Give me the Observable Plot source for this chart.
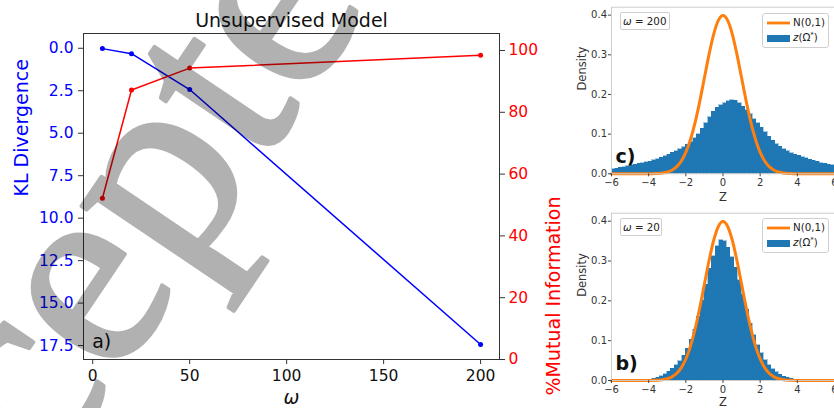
<!DOCTYPE html>
<html>
<head>
<meta charset="utf-8">
<script src="https://cdn.jsdelivr.net/npm/d3@7"></script>
<script src="https://cdn.jsdelivr.net/npm/@observablehq/plot@0.6"></script>
<style>
html, body { margin: 0; padding: 0; background: #fff; }
#root { position: relative; width: 834px; height: 408px; overflow: hidden; font-family: "DejaVu Sans", sans-serif; background: #fff; }
.layer { position: absolute; }
.layer svg { max-width: none; }
.box { position: absolute; border: 1px solid #cfcfcf; border-radius: 3px; background: rgba(255,255,255,0.85); color: #222; font-size: 10.3px; box-sizing: border-box; }
.box span { position: absolute; white-space: nowrap; line-height: 1; }
.sw { position: absolute; }
</style>
</head>
<body>
<div id="root"></div>
<script>
// ---- main panel a) data ----
const omega = [5, 20, 50, 200];
const klDivergence = [0.02, 0.32, 2.43, 17.44];
const mutualInformation = [52.2, 87.2, 94.3, 98.5];
const omegaTicks = [0, 50, 100, 150, 200];
const klTicks = [0, 2.5, 5, 7.5, 10, 12.5, 15, 17.5];
const miTicks = [0, 20, 40, 60, 80, 100];

// ---- histogram panels b) and c) data ----
const zBinCenters = [-5.9,-5.7,-5.5,-5.3,-5.1,-4.9,-4.7,-4.5,-4.3,-4.1,-3.9,-3.7,-3.5,-3.3,-3.1,-2.9,-2.7,-2.5,-2.3,-2.1,-1.9,-1.7,-1.5,-1.3,-1.1,-0.9,-0.7,-0.5,-0.3,-0.1,0.1,0.3,0.5,0.7,0.9,1.1,1.3,1.5,1.7,1.9,2.1,2.3,2.5,2.7,2.9,3.1,3.3,3.5,3.7,3.9,4.1,4.3,4.5,4.7,4.9,5.1,5.3,5.5,5.7,5.9];
const densityOmega200 = [
  0.012,0.013,0.015,0.017,0.019,0.021,0.023,0.025,0.027,0.029,
  0.031,0.034,0.037,0.040,0.044,0.048,0.053,0.057,0.062,0.067,
  0.073,0.080,0.090,0.100,0.113,0.128,0.142,0.156,0.166,0.173,
  0.178,0.183,0.186,0.184,0.178,0.169,0.160,0.150,0.138,0.127,
  0.116,0.105,0.094,0.083,0.075,0.068,0.062,0.057,0.052,0.048,
  0.045,0.042,0.039,0.036,0.033,0.030,0.027,0.025,0.023,0.021];
const densityOmega20 = [
  0,0,0,0,0,0,0,0,0,0.001,
  0.002,0.004,0.007,0.011,0.016,0.022,0.029,0.038,0.048,0.062,
  0.080,0.102,0.128,0.160,0.200,0.240,0.280,0.312,0.337,0.352,
  0.350,0.333,0.310,0.283,0.252,0.215,0.178,0.143,0.113,0.088,
  0.068,0.051,0.038,0.028,0.021,0.015,0.010,0.007,0.004,0.002,
  0.001,0,0,0,0,0,0,0,0,0];
const normalZ = [-6,-5.75,-5.5,-5.25,-5,-4.75,-4.5,-4.25,-4,-3.75,-3.5,-3.25,-3,-2.75,-2.5,-2.25,-2,-1.75,-1.5,-1.25,-1,-0.75,-0.5,-0.25,0,0.25,0.5,0.75,1,1.25,1.5,1.75,2,2.25,2.5,2.75,3,3.25,3.5,3.75,4,4.25,4.5,4.75,5,5.25,5.5,5.75,6];
const normalDensity = [0,0,0,0,0,0,0,0,0.0001,0.0004,0.0009,0.002,0.0044,0.0091,0.0175,0.0317,0.054,0.0863,0.1295,0.1826,0.242,0.3011,0.3521,0.3867,0.3989,0.3867,0.3521,0.3011,0.242,0.1826,0.1295,0.0863,0.054,0.0317,0.0175,0.0091,0.0044,0.002,0.0009,0.0004,0.0001,0,0,0,0,0,0,0,0];
const zTicks = [-6, -4, -2, 0, 2, 4, 6];
const densityTicks = [0, 0.1, 0.2, 0.3, 0.4];

const root = document.getElementById("root");
function layer(node, left, top, w, h) {
  const d = document.createElement("div");
  d.className = "layer";
  Object.assign(d.style, {left: left + "px", top: top + "px", width: w + "px", height: h + "px"});
  d.appendChild(node);
  root.appendChild(d);
  return d;
}
const baseStyle = "background: transparent; overflow: visible; max-width: none; font-family: 'DejaVu Sans', sans-serif;";
const mainDims = {width: 560, height: 408, marginLeft: 83, marginRight: 61, marginTop: 33, marginBottom: 49};
const mainData = omega.map((w, i) => ({omega: w, kl: klDivergence[i], mi: mutualInformation[i]}));
const xDomain = [-4.75, 209.75];

const klPlot = Plot.plot({
  ...mainDims,
  style: baseStyle,
  x: {domain: xDomain},
  y: {domain: [-0.87, 18.32], reverse: true},
  marks: [
    Plot.frame({stroke: "#333", strokeWidth: 1}),
    Plot.axisX({ticks: omegaTicks, tickSize: 5, tickPadding: 5, fontSize: 15.5, label: null, stroke: "#333", fill: "#111"}),
    Plot.axisY({ticks: klTicks, tickFormat: d3.format(".1f"), tickSize: 5, tickPadding: 5, fontSize: 15.5, label: null, stroke: "#333", fill: "#0000ff"}),
    Plot.line(mainData, {x: "omega", y: "kl", stroke: "#0000ff", strokeWidth: 1.5}),
    Plot.dot(mainData, {x: "omega", y: "kl", fill: "#0000ff", r: 2.5}),
    Plot.text(["Unsupervised Model"], {text: d => d, frameAnchor: "top", lineAnchor: "bottom", dy: -6.5, fontSize: 19, fill: "#111"}),
    Plot.text(["a)"], {text: d => d, frameAnchor: "bottom-left", textAnchor: "start", lineAnchor: "bottom", dx: 8.7, dy: -12, fontSize: 19, fill: "#111"}),
    Plot.text(["ω"], {text: d => d, frameAnchor: "bottom", lineAnchor: "bottom", dy: 44, fontSize: 19, fontStyle: "italic", fill: "#111"}),
    Plot.text(["KL Divergence"], {text: d => d, frameAnchor: "left", rotate: -90, dx: -62, fontSize: 19, fill: "#0000ff"})
  ]
});
layer(klPlot, 0, 0, 560, 408);

const miPlot = Plot.plot({
  ...mainDims,
  style: baseStyle,
  x: {domain: xDomain, axis: null},
  y: {domain: [0, 105.5]},
  marks: [
    Plot.axisY({anchor: "right", ticks: miTicks, tickSize: 5, tickPadding: 4, fontSize: 15.5, label: null, stroke: "#333", fill: "#ff0000"}),
    Plot.line(mainData, {x: "omega", y: "mi", stroke: "#ff0000", strokeWidth: 1.5}),
    Plot.dot(mainData, {x: "omega", y: "mi", fill: "#ff0000", r: 2.5}),
    Plot.text(["%Mutual Information"], {text: d => d, frameAnchor: "right", rotate: -90, dx: 54, fontSize: 19, fill: "#ff0000"})
  ]
});
layer(miPlot, 0, 0, 560, 408);

const minusFormat = d => d < 0 ? "\u2212" + (-d) : String(d);
function histPanel(density, label, h, marginTop, marginBottom, labelDy, zDy) {
  const bins = zBinCenters.map((z, i) => ({z, d: density[i]}));
  const curve = normalZ.map((z, i) => ({z, d: normalDensity[i]}));
  return Plot.plot({
    width: 290, height: h, marginLeft: 51, marginRight: 16, marginTop, marginBottom,
    style: baseStyle,
    x: {domain: [-6, 6]},
    y: {domain: [0, 0.42]},
    marks: [
      Plot.rectY(bins, {x: "z", y: "d", interval: 0.2, inset: 0, insetLeft: 0, insetRight: 0, fill: "#1f77b4", stroke: "#1f77b4", strokeWidth: 0.4, shapeRendering: "crispEdges"}),
      Plot.line(curve, {x: "z", y: "d", stroke: "#ff7f0e", strokeWidth: 3, curve: "monotone-x"}),
      Plot.frame({stroke: "#cccccc"}),
      Plot.axisX({ticks: zTicks, tickFormat: minusFormat, tickSize: 3, tickPadding: 2.5, fontSize: 10, stroke: "#444", fill: "#333", label: null}),
      Plot.axisY({ticks: densityTicks, tickFormat: d3.format(".1f"), tickSize: 3, tickPadding: 1.5, fontSize: 10, stroke: "#444", fill: "#333", label: null}),
      Plot.text([label], {text: d => d, frameAnchor: "bottom-left", textAnchor: "start", lineAnchor: "bottom", dx: 4, dy: labelDy, fontSize: 19, fontWeight: "bold", fill: "#111"}),
      Plot.text(["Density"], {text: d => d, frameAnchor: "left", rotate: -90, dx: -29, fontSize: 11.5, fill: "#333"}),
      Plot.text(["Z"], {text: d => d, frameAnchor: "bottom", lineAnchor: "bottom", dy: zDy, fontSize: 11.5, fill: "#333"})
    ]
  });
}
layer(histPanel(densityOmega200, "c)", 205, 6.7, 31.7, -11.3, 26.7), 560, 0, 290, 205);
layer(histPanel(densityOmega20, "b)", 203, 7.7, 28, -10.5, 25), 560, 205, 290, 203);

// legends and annotation boxes
function legend(top) {
  const b = document.createElement("div");
  b.className = "box";
  Object.assign(b.style, {left: "762px", top: top + "px", width: "67px", height: "35px"});
  b.innerHTML =
    '<svg class="sw" style="left:4px;top:6px" width="24" height="6"><line x1="0" x2="23" y1="3" y2="3" stroke="#ff7f0e" stroke-width="2.8"/></svg>' +
    '<span style="left:30px;top:3px">N(0,1)</span>' +
    '<svg class="sw" style="left:4px;top:21px" width="24" height="8"><rect x="0" y="0" width="23" height="7" fill="#1f77b4"/></svg>' +
    '<span style="left:30px;top:18px"><i>z</i>(Ω<sup style="font-size:7px;vertical-align:4px">*</sup>)</span>';
  root.appendChild(b);
}
function omegaBox(top, width, txt) {
  const b = document.createElement("div");
  b.className = "box";
  Object.assign(b.style, {left: "620px", top: top + "px", width: width + "px", height: "18px", borderRadius: "2px"});
  b.innerHTML = '<span style="left:2px;top:3px"><i>ω</i> = ' + txt + '</span>';
  root.appendChild(b);
}
legend(12.7);
legend(217.7);
omegaBox(11.7, 50, "200");
omegaBox(217.7, 42, "20");

// "Accepted" watermark stamp over the figure
const wm = document.createElementNS("http://www.w3.org/2000/svg", "svg");
wm.setAttribute("width", 834); wm.setAttribute("height", 408);
wm.style.cssText = "position:absolute;left:0;top:0;pointer-events:none;";
wm.innerHTML = '<g opacity="0.3"><text transform="translate(-133,750) rotate(-56)" font-family="Liberation Serif" font-size="275" fill="#000" stroke="#000" stroke-width="4" stroke-linejoin="round">Accepted</text></g>';
root.appendChild(wm);
</script>
</body>
</html>
